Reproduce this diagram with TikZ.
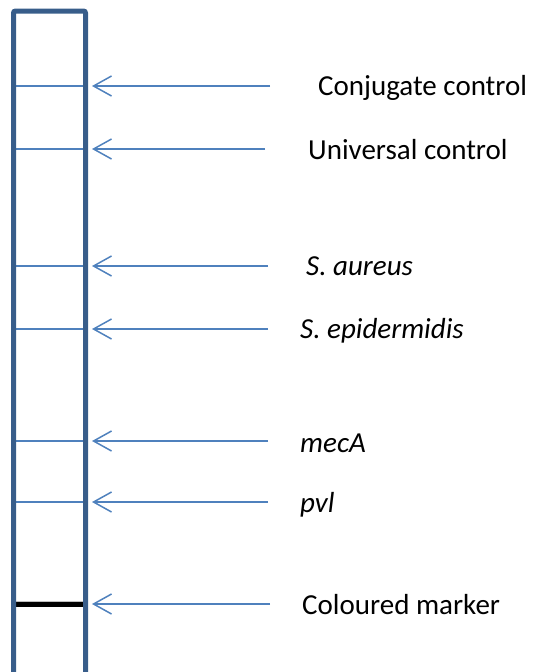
\documentclass[tikz,border=0pt]{standalone}
\usepackage{fontspec}
\setmainfont{Carlito}
\usetikzlibrary{arrows.meta}
\definecolor{stripblue}{RGB}{56,93,138}
\definecolor{lineblue}{RGB}{79,129,189}
\begin{document}
\begin{tikzpicture}[x=1pt,y=-1pt,
  band/.style={lineblue,line width=2pt},
  pointer/.style={lineblue,line width=1.5pt,-{Straight Barb[length=18pt,width=20pt,line width=1.5pt]}},
  lbl/.style={anchor=base west,inner sep=0pt,font=\fontsize{29}{32}\selectfont}]
\useasboundingbox (0,0) rectangle (534,672);
% bands
\foreach \y/\n in {86/a,149/b,266/c,329/d,441/e,502/f}{
  \coordinate (L\n) at (13.5,\y);
  \coordinate (R\n) at (85.5,\y);
  \draw[band] (L\n) -- (R\n);
}
\coordinate (Lg) at (13.5,604.5);
\coordinate (Rg) at (85.5,604.5);
\draw[black!25,line width=4pt] ([yshift=2pt]Lg) -- ([yshift=2pt]Rg);
\draw[black,line width=5pt] (Lg) -- (Rg);
% strip
\draw[stripblue,line width=5pt,rounded corners=2pt] (13.5,700) -- (13.5,11) -- (85.5,11) -- (85.5,700);
% arrows
\foreach \y/\xr/\n in {86/270/a,149/265/b,266/268/c,329/268/d,441/268/e,502/268/f,604/270/g}{
  \coordinate (S\n) at (\xr,\y);
  \coordinate (T\n) at (92,\y);
  \draw[pointer] (S\n) -- (T\n);
}
% labels
\node[lbl] (na) at (318,95) {Conjugate control};
\node[lbl] (nb) at (308,159) {Universal control};
\node[lbl] (nc) at (306,275) {\itshape S. aureus};
\node[lbl] (nd) at (300,338) {\itshape S. epidermidis};
\node[lbl] (ne) at (300,452) {\itshape mecA};
\node[lbl] (nf) at (300,512) {\itshape pvl};
\node[lbl] (ng) at (302,614) {Coloured marker};
\end{tikzpicture}
\end{document}
